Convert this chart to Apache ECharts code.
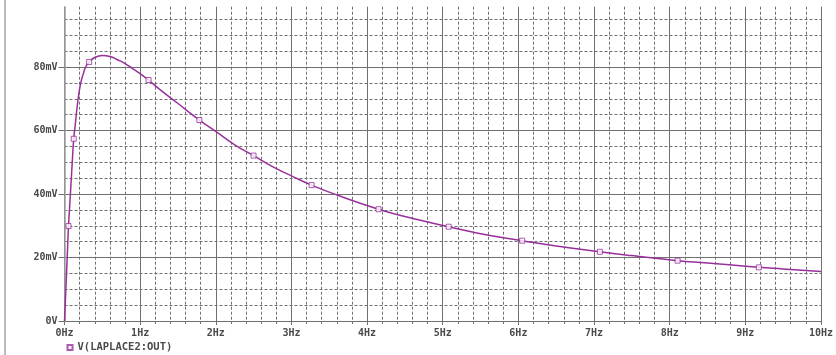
<!DOCTYPE html>
<html>
<head>
<meta charset="utf-8">
<script src="https://cdn.jsdelivr.net/npm/echarts@6/dist/echarts.min.js"></script>
<style>
  html, body { margin: 0; padding: 0; background: #ffffff; }
  #chart { width: 836px; height: 355px; }
</style>
</head>
<body>
<div id="chart"></div>
<script>
// Frequency sweep of V(LAPLACE2:OUT): frequency in Hz, output in mV
const freqHz = [0, 0.01, 0.02, 0.035, 0.053, 0.078, 0.1, 0.122, 0.14, 0.18, 0.215, 0.25, 0.28, 0.326,
  0.4, 0.5, 0.6, 0.7, 0.8, 0.9, 1.0, 1.111, 1.25, 1.5, 1.783, 2.0, 2.25, 2.499, 2.75, 3.0, 3.266,
  3.6, 4.151, 4.5, 5.078, 5.5, 6.05, 6.5, 7.077, 7.5, 8.105, 8.5, 9.179, 9.5, 10];
const outMv = [0, 5.5, 11, 19.5, 29.9, 40, 49, 57.4, 61.3, 70, 75, 78, 80, 81.6,
  83, 83.6, 83.3, 82.3, 81.1, 79.5, 77.9, 75.9, 73.1, 68.5, 63.3, 59.7, 55.5, 52.1, 48.6, 45.7, 42.8,
  39.7, 35.2, 32.9, 29.7, 27.5, 25.3, 23.6, 21.8, 20.6, 19.0, 18.3, 16.9, 16.4, 15.6];

// Points where the trace carries its square markers
const markerFreqHz = [0.053, 0.122, 0.326, 1.111, 1.783, 2.499, 3.266, 4.151, 5.078, 6.05, 7.077, 8.105, 9.179];
const markerMv = [29.9, 57.4, 81.6, 75.9, 63.3, 52.1, 42.8, 35.2, 29.7, 25.3, 21.8, 19.0, 16.9];

// Axis ranges and labelled steps
const xRange = [0, 10];
const xStep = 1;
const yRange = [0, 99];
const yStep = 20;
const yMinorStep = 5;

const traceName = 'V(LAPLACE2:OUT)';
const traceColor = '#98309c';
const gridColor = '#707070';
const labelFont = {
  color: '#4a4a4a',
  fontFamily: 'DejaVu Sans Mono',
  fontWeight: 'bold',
  fontSize: 10
};

const chart = echarts.init(document.getElementById('chart'), null, { renderer: 'canvas' });

chart.setOption({
  animation: false,
  backgroundColor: '#ffffff',
  grid: { left: 64.5, right: 2.5, top: 6.7, bottom: 34 },
  graphic: [{
    type: 'line',
    shape: { x1: 5, y1: 0, x2: 5, y2: 355 },
    style: { stroke: '#a6a6a6', lineWidth: 1.5 },
    silent: true
  }],
  legend: {
    left: 66.5,
    top: 342,
    padding: 0,
    itemWidth: 5,
    itemHeight: 5,
    itemGap: 10,
    data: [traceName],
    textStyle: Object.assign({}, labelFont, { fontSize: 10.5, color: '#4a4a4a' })
  },
  xAxis: {
    type: 'value',
    min: xRange[0],
    max: xRange[1],
    interval: xStep,
    axisLine: { show: true, lineStyle: { color: gridColor, width: 1 } },
    axisTick: { show: true, length: 4, lineStyle: { color: gridColor } },
    minorTick: { show: true, splitNumber: 5, length: 3, lineStyle: { color: gridColor } },
    axisLabel: Object.assign({}, labelFont, {
      margin: 7,
      formatter: v => v + 'Hz'
    }),
    splitLine: { show: true, lineStyle: { color: gridColor, width: 1 } },
    minorSplitLine: { show: true, lineStyle: { color: gridColor, width: 1, type: [3, 2] } }
  },
  yAxis: [
    {
      type: 'value',
      min: yRange[0],
      max: yRange[1],
      interval: yMinorStep,
      position: 'left',
      z: 0,
      axisLine: { show: false },
      axisTick: { show: false },
      axisLabel: { show: false },
      splitLine: {
        show: true,
        showMaxLine: false,
        lineStyle: { color: gridColor, width: 1, type: [3, 2] }
      }
    },
    {
      type: 'value',
      min: yRange[0],
      max: yRange[1],
      interval: yStep,
      position: 'left',
      z: 1,
      axisLine: { show: true, lineStyle: { color: '#a0a0a0', width: 1.5 } },
      axisTick: { show: true, length: 6, lineStyle: { color: gridColor } },
      axisLabel: Object.assign({}, labelFont, {
        margin: 7,
        showMaxLabel: false,
        formatter: v => (v === 0 ? '0V' : v + 'mV')
      }),
      splitLine: {
        show: true,
        showMaxLine: false,
        lineStyle: { color: gridColor, width: 1 }
      }
    }
  ],
  series: [
    {
      name: 'curve',
      type: 'line',
      yAxisIndex: 1,
      data: freqHz.map((f, i) => [f, outMv[i]]),
      showSymbol: false,
      smooth: 0.5,
      lineStyle: { color: traceColor, width: 1.5 },
      z: 3
    },
    {
      name: traceName,
      type: 'scatter',
      yAxisIndex: 1,
      data: markerFreqHz.map((f, i) => [f, markerMv[i]]),
      symbol: 'rect',
      symbolSize: 5,
      itemStyle: { color: '#ffffff', borderColor: traceColor, borderWidth: 1 },
      z: 4
    }
  ]
});
</script>
</body>
</html>
